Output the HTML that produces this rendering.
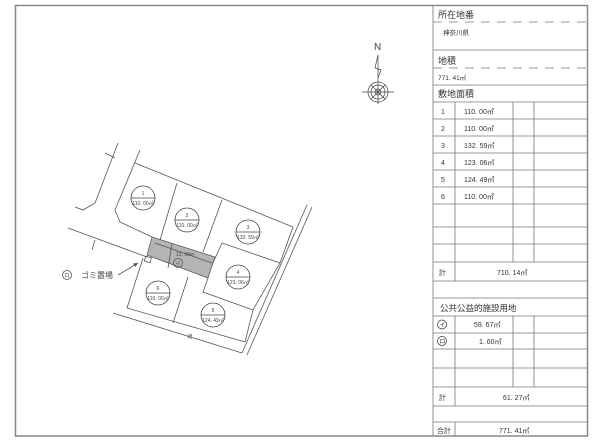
<!DOCTYPE html>
<html><head><meta charset="utf-8"><style>
html,body{margin:0;padding:0;background:#fff;}
svg{display:block;font-family:"Liberation Sans","Noto Sans CJK JP",sans-serif;}
</style></head><body>
<svg width="600" height="445" viewBox="0 0 600 445" xmlns="http://www.w3.org/2000/svg">
<rect x="15.5" y="5.5" width="572" height="430.5" fill="none" stroke="#888" stroke-width="1.5"/>
<!-- table -->
<g stroke="#777" stroke-width="0.8" fill="none">
<line x1="433" y1="5" x2="433" y2="436"/>
<line x1="433" y1="22" x2="588" y2="22" stroke-dasharray="9,7"/>
<line x1="433" y1="50" x2="588" y2="50"/>
<line x1="433" y1="68" x2="588" y2="68" stroke-dasharray="9,7"/>
<line x1="433" y1="85" x2="588" y2="85"/>
<line x1="433" y1="102" x2="588" y2="102"/>
<line x1="433" y1="119" x2="588" y2="119"/>
<line x1="433" y1="136" x2="588" y2="136"/>
<line x1="433" y1="153" x2="588" y2="153"/>
<line x1="433" y1="170" x2="588" y2="170"/>
<line x1="433" y1="187" x2="588" y2="187"/>
<line x1="433" y1="204" x2="588" y2="204"/>
<line x1="433" y1="227" x2="588" y2="227"/>
<line x1="433" y1="244" x2="588" y2="244"/>
<line x1="433" y1="262" x2="588" y2="262"/>
<line x1="433" y1="281" x2="588" y2="281"/>
<line x1="433" y1="298" x2="588" y2="298"/>
<line x1="433" y1="316" x2="588" y2="316"/>
<line x1="433" y1="333" x2="588" y2="333"/>
<line x1="433" y1="349" x2="588" y2="349"/>
<line x1="433" y1="368" x2="588" y2="368"/>
<line x1="433" y1="387" x2="588" y2="387"/>
<line x1="433" y1="406" x2="588" y2="406"/>
<line x1="433" y1="422" x2="588" y2="422"/>
<line x1="455" y1="102" x2="455" y2="281"/>
<line x1="513" y1="102" x2="513" y2="262"/>
<line x1="534" y1="102" x2="534" y2="262"/>
<line x1="455" y1="316" x2="455" y2="406"/>
<line x1="513" y1="316" x2="513" y2="387"/>
<line x1="534" y1="316" x2="534" y2="387"/>
<line x1="455" y1="422" x2="455" y2="436"/>
</g>
<g fill="#333" font-size="7">
<text x="438" y="18" font-size="9">所在地番</text>
<text x="443" y="35" font-size="6.5">神奈川県</text>
<text x="438" y="64" font-size="9">地積</text>
<text x="438" y="80" font-size="6.5">771. 41㎡</text>
<text x="438" y="97" font-size="9">敷地面積</text>
<text x="441" y="114">1</text><text x="464" y="114">110. 00㎡</text>
<text x="441" y="131">2</text><text x="464" y="131">110. 00㎡</text>
<text x="441" y="148">3</text><text x="464" y="148">132. 59㎡</text>
<text x="441" y="165">4</text><text x="464" y="165">123. 06㎡</text>
<text x="441" y="182">5</text><text x="464" y="182">124. 49㎡</text>
<text x="441" y="199">6</text><text x="464" y="199">110. 00㎡</text>
<text x="439" y="275">計</text><text x="497" y="275">710. 14㎡</text>
<text x="440" y="311" font-size="8.5">公共公益的施設用地</text>
<circle cx="442" cy="324.5" r="4.5" fill="none" stroke="#333" stroke-width="0.7"/><text x="439.5" y="327" font-size="6">イ</text>
<circle cx="442" cy="341" r="4.5" fill="none" stroke="#333" stroke-width="0.7"/><text x="439.5" y="343.5" font-size="6">ロ</text>
<text x="474" y="327">59. 67㎡</text>
<text x="479" y="344">1. 60㎡</text>
<text x="439" y="400">計</text><text x="503" y="400">61. 27㎡</text>
<text x="437" y="433">合計</text><text x="499" y="433">771. 41㎡</text>
</g>
<!-- compass -->
<g stroke="#444" stroke-width="0.7" fill="none">
<text x="374" y="50" font-size="10" fill="#444" stroke="none">N</text>
<polyline points="378,55 375,68 381,70 378,78"/>
<line x1="378" y1="55" x2="378" y2="104"/>
<line x1="362" y1="92" x2="394" y2="92"/>
<circle cx="378" cy="92" r="10"/>
<circle cx="378" cy="92" r="7"/>
<circle cx="378" cy="92" r="3"/>
<line x1="371" y1="85" x2="385" y2="99"/><line x1="385" y1="85" x2="371" y2="99"/>
</g>
<!-- plan -->
<polygon points="152,237 215,257 208,278 147,255" fill="#b4b4b4" stroke="#555" stroke-width="0.7"/>
<g stroke="#555" stroke-width="0.8" fill="none">
<polyline points="118,143 95,203 83,210 75,207"/>
<line x1="105" y1="153" x2="115" y2="158"/>
<polyline points="140,150 115,210 120,222 152,237"/>
<line x1="135" y1="163" x2="293" y2="227"/>
<line x1="68" y1="228" x2="147" y2="257"/>
<line x1="95" y1="240" x2="92" y2="250"/>
<line x1="177" y1="183" x2="160" y2="240"/>
<line x1="222" y1="200" x2="203" y2="252"/>
<polyline points="222,243 280,263 253,310 203,292 208,278"/>
<line x1="222" y1="243" x2="212" y2="265"/>
<polyline points="293,227 280,263"/>
<line x1="307" y1="205" x2="242" y2="353"/>
<line x1="312" y1="207" x2="247" y2="355"/>
<line x1="253" y1="310" x2="245" y2="342"/>
<line x1="113" y1="313" x2="242" y2="353"/>
<line x1="127" y1="308" x2="245" y2="342"/>
<line x1="143" y1="258" x2="127" y2="308"/>
<line x1="188" y1="277" x2="173" y2="323"/>
<rect x="145" y="257" width="6" height="5" transform="rotate(18 148 259)"/>
<line x1="155" y1="243" x2="212" y2="263"/>
<line x1="172" y1="244" x2="168" y2="268"/>
<circle cx="178" cy="263" r="4.5"/>
<line x1="118" y1="275" x2="138" y2="263"/>
<circle cx="67" cy="275" r="4.5"/>
</g>
<polygon points="138,263 133,263.5 135.5,267" fill="#555"/>
<g font-size="5.5" fill="#444" text-anchor="middle">
<text x="185" y="256" font-size="5">13. 96m</text>
<text x="178" y="265.5" font-size="5">イ</text>
<text x="67" y="277.5" font-size="5.5">ロ</text>
<text x="97" y="278" font-size="8">ゴミ置場</text>
<text x="190" y="338" font-size="5">道</text>
</g>
<g stroke="#444" stroke-width="0.8" fill="#fff" font-size="5" text-anchor="middle">
<g transform="translate(143,198)"><circle r="12"/><line x1="-12" y1="0" x2="12" y2="0"/><text y="-3" stroke="none" fill="#444">1</text><text y="7" stroke="none" fill="#444">110. 00㎡</text></g>
<g transform="translate(187,220)"><circle r="12"/><line x1="-12" y1="0" x2="12" y2="0"/><text y="-3" stroke="none" fill="#444">2</text><text y="7" stroke="none" fill="#444">110. 00㎡</text></g>
<g transform="translate(248,232)"><circle r="12"/><line x1="-12" y1="0" x2="12" y2="0"/><text y="-3" stroke="none" fill="#444">3</text><text y="7" stroke="none" fill="#444">132. 59㎡</text></g>
<g transform="translate(238,277)"><circle r="12"/><line x1="-12" y1="0" x2="12" y2="0"/><text y="-3" stroke="none" fill="#444">4</text><text y="7" stroke="none" fill="#444">123. 06㎡</text></g>
<g transform="translate(213,315)"><circle r="12"/><line x1="-12" y1="0" x2="12" y2="0"/><text y="-3" stroke="none" fill="#444">5</text><text y="7" stroke="none" fill="#444">124. 49㎡</text></g>
<g transform="translate(158,293)"><circle r="12"/><line x1="-12" y1="0" x2="12" y2="0"/><text y="-3" stroke="none" fill="#444">6</text><text y="7" stroke="none" fill="#444">110. 00㎡</text></g>
</g>
</svg>
</body></html>
